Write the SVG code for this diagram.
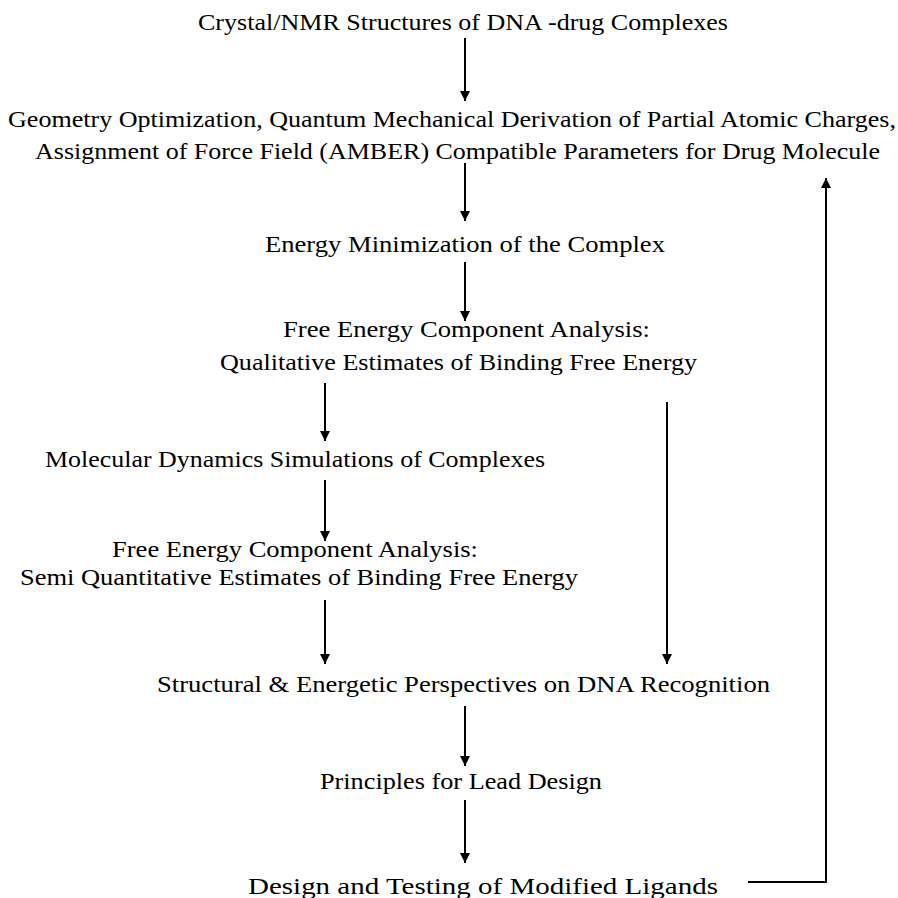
<svg xmlns="http://www.w3.org/2000/svg" width="898" height="898" viewBox="0 0 898 898">
<defs>
<style>
text{font-family:"Liberation Serif","Times New Roman",serif;font-size:23px;fill:#000}
.c{stroke:#000;stroke-width:2;fill:none}
</style>
<marker id="ah" viewBox="0 0 10 14" refX="10" refY="7" markerWidth="10" markerHeight="14" markerUnits="userSpaceOnUse" orient="auto"><path d="M0,2 L10,7 L0,12 Z" fill="#000"/></marker>
</defs>
<rect width="898" height="898" fill="#fff"/>
<g id="n1"><text x="198" y="30" textLength="530" lengthAdjust="spacingAndGlyphs">Crystal/NMR Structures of DNA -drug Complexes</text></g>
<g id="n2"><text x="8" y="127" textLength="888" lengthAdjust="spacingAndGlyphs">Geometry Optimization, Quantum Mechanical Derivation of Partial Atomic Charges,</text><text x="35" y="159" textLength="845" lengthAdjust="spacingAndGlyphs">Assignment of Force Field (AMBER) Compatible Parameters for Drug Molecule</text></g>
<g id="n3"><text x="265" y="252" textLength="400" lengthAdjust="spacingAndGlyphs">Energy Minimization of the Complex</text></g>
<g id="n4"><text x="283" y="337" textLength="367" lengthAdjust="spacingAndGlyphs">Free Energy Component Analysis:</text><text x="220" y="370" textLength="477" lengthAdjust="spacingAndGlyphs">Qualitative Estimates of Binding Free Energy</text></g>
<g id="n5"><text x="45" y="467" textLength="500" lengthAdjust="spacingAndGlyphs">Molecular Dynamics Simulations of Complexes</text></g>
<g id="n6"><text x="112" y="557" textLength="366" lengthAdjust="spacingAndGlyphs">Free Energy Component Analysis:</text><text x="20" y="585" textLength="558" lengthAdjust="spacingAndGlyphs">Semi Quantitative Estimates of Binding Free Energy</text></g>
<g id="n7"><text x="157" y="692" textLength="613" lengthAdjust="spacingAndGlyphs">Structural &amp; Energetic Perspectives on DNA Recognition</text></g>
<g id="n8"><text x="320" y="789" textLength="282" lengthAdjust="spacingAndGlyphs">Principles for Lead Design</text></g>
<g id="n9"><text x="248" y="894" textLength="470" lengthAdjust="spacingAndGlyphs">Design and Testing of Modified Ligands</text></g>
<g id="connectors">
<line class="c" x1="465" y1="38" x2="465" y2="101" marker-end="url(#ah)"/>
<line class="c" x1="465" y1="163" x2="465" y2="221" marker-end="url(#ah)"/>
<line class="c" x1="465" y1="262" x2="465" y2="321" marker-end="url(#ah)"/>
<line class="c" x1="325" y1="383" x2="325" y2="441" marker-end="url(#ah)"/>
<line class="c" x1="667" y1="402" x2="667" y2="664" marker-end="url(#ah)"/>
<line class="c" x1="325" y1="480" x2="325" y2="541" marker-end="url(#ah)"/>
<line class="c" x1="325" y1="600" x2="325" y2="664" marker-end="url(#ah)"/>
<line class="c" x1="465" y1="706" x2="465" y2="766" marker-end="url(#ah)"/>
<line class="c" x1="465" y1="800" x2="465" y2="863" marker-end="url(#ah)"/>
<polyline class="c" points="748,882 826,882 826,178" marker-end="url(#ah)"/>
</g>
</svg>
